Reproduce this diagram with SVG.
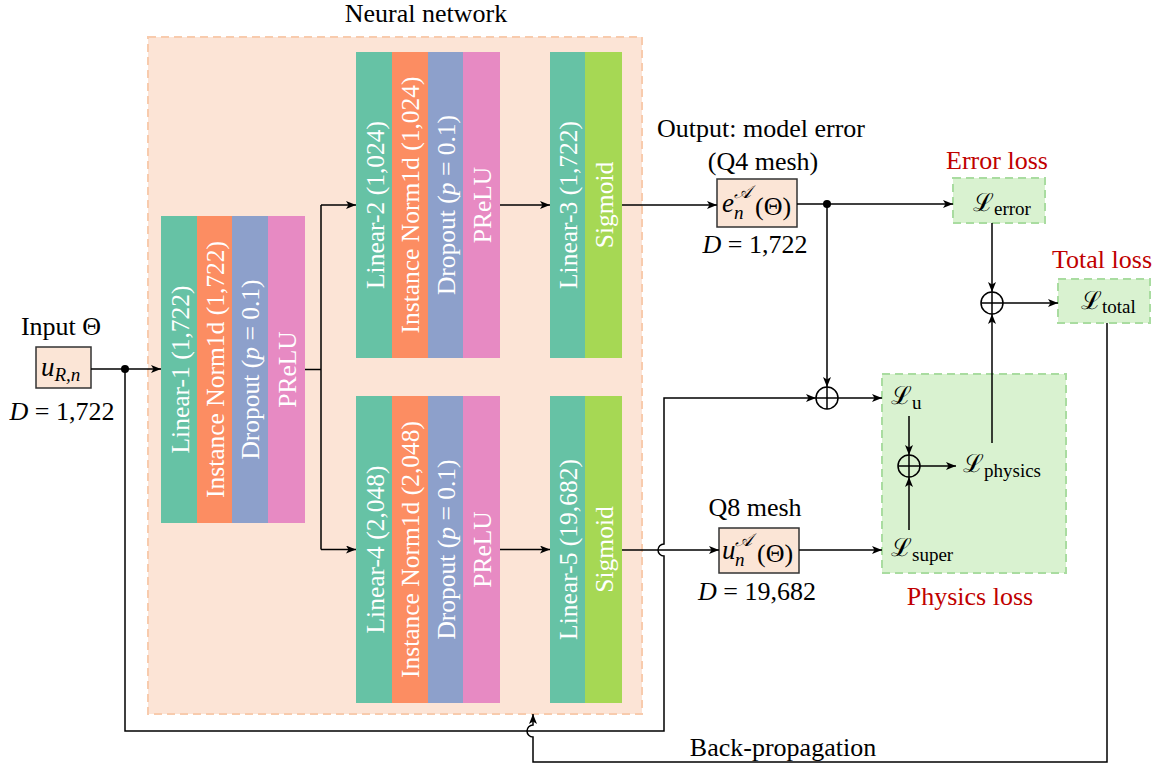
<svg xmlns="http://www.w3.org/2000/svg" width="1161" height="769" viewBox="0 0 1161 769">
<style>
text{font-family:"Liberation Serif","Times New Roman","DejaVu Serif",serif;fill:#000}
.t{font-size:26px}
.c{text-anchor:middle}
.red{fill:#c00000}
.lab{font-size:25.5px;fill:#fff;text-anchor:middle;dominant-baseline:central}
.g{fill:#66c2a5}.o{fill:#fc8d62}.b{fill:#8da0cb}.p{fill:#e78ac3}.l{fill:#a6d854}
.box{fill:#fbe5d6;stroke:#333;stroke-width:1.5}
.loss{fill:#d9f2d0;stroke:#a9dca0;stroke-width:2;stroke-dasharray:8 5}
.ln{fill:none;stroke:#000;stroke-width:1.5}
.arr{marker-end:url(#ah)}
.it{font-style:italic}
.sL{font-family:"DejaVu Serif","Liberation Serif",serif;font-size:25px}
.sub{font-size:19px}
</style>
<defs>
<marker id="ah" markerUnits="userSpaceOnUse" markerWidth="11" markerHeight="9" refX="10" refY="4" orient="auto">
<path d="M0,0 L10,4 L0,8 L2.5,4 z" fill="#000"/>
</marker>
</defs>

<g id="nn">
<rect x="148" y="37" width="494" height="677" fill="#fce4d6" stroke="#f8cbad" stroke-width="2" stroke-dasharray="8 5"/>
<text class="t c" x="426" y="22">Neural network</text>
</g>

<g id="block1">
<rect class="g" x="161" y="216" width="36" height="307"/>
<rect class="o" x="197" y="216" width="35" height="307"/>
<rect class="b" x="232" y="216" width="36" height="307"/>
<rect class="p" x="268" y="216" width="37" height="307"/>
<text class="lab" transform="translate(180,369.5) rotate(-90)">Linear-1 (1,722)</text>
<text class="lab" transform="translate(215,369.5) rotate(-90)">Instance Norm1d (1,722)</text>
<text class="lab" transform="translate(250,369.5) rotate(-90)">Dropout (<tspan class="it">p</tspan> = 0.1)</text>
<text class="lab" transform="translate(287,369.5) rotate(-90)">PReLU</text>
</g>

<g id="block2">
<rect class="g" x="356" y="52" width="36" height="306"/>
<rect class="o" x="392" y="52" width="36" height="306"/>
<rect class="b" x="428" y="52" width="35" height="306"/>
<rect class="p" x="463" y="52" width="37" height="306"/>
<text class="lab" transform="translate(375,205) rotate(-90)">Linear-2 (1,024)</text>
<text class="lab" transform="translate(410,205) rotate(-90)">Instance Norm1d (1,024)</text>
<text class="lab" transform="translate(446,205) rotate(-90)">Dropout (<tspan class="it">p</tspan> = 0.1)</text>
<text class="lab" transform="translate(482,205) rotate(-90)">PReLU</text>
</g>

<g id="block3">
<rect class="g" x="550" y="52" width="35" height="306"/>
<rect class="l" x="585" y="52" width="37" height="306"/>
<text class="lab" transform="translate(568,205) rotate(-90)">Linear-3 (1,722)</text>
<text class="lab" transform="translate(604,205) rotate(-90)">Sigmoid</text>
</g>

<g id="block4">
<rect class="g" x="356" y="396" width="36" height="307"/>
<rect class="o" x="392" y="396" width="36" height="307"/>
<rect class="b" x="428" y="396" width="35" height="307"/>
<rect class="p" x="463" y="396" width="37" height="307"/>
<text class="lab" transform="translate(375,549.5) rotate(-90)">Linear-4 (2,048)</text>
<text class="lab" transform="translate(410,549.5) rotate(-90)">Instance Norm1d (2,048)</text>
<text class="lab" transform="translate(446,549.5) rotate(-90)">Dropout (<tspan class="it">p</tspan> = 0.1)</text>
<text class="lab" transform="translate(482,549.5) rotate(-90)">PReLU</text>
</g>

<g id="block5">
<rect class="g" x="550" y="396" width="35" height="307"/>
<rect class="l" x="585" y="396" width="37" height="307"/>
<text class="lab" transform="translate(568,549.5) rotate(-90)">Linear-5 (19,682)</text>
<text class="lab" transform="translate(604,549.5) rotate(-90)">Sigmoid</text>
</g>

<g id="input">
<text class="t c" x="61" y="335">Input Θ</text>
<rect class="box" x="36" y="347" width="55" height="41"/>
<text x="41" y="376" class="it" font-size="27">u<tspan class="sub" dy="5">R,n</tspan></text>
<text class="t c" x="62" y="420"><tspan class="it">D</tspan> = 1,722</text>
</g>

<g id="output-error">
<text class="t c" x="761" y="137">Output: model error</text>
<text class="t c" x="763" y="170">(Q4 mesh)</text>
<rect class="box" x="717" y="179" width="80" height="48"/>
<text x="722" y="212" class="it" font-size="27">e</text>
<text x="734" y="219" class="it sub">n</text>
<text x="734" y="198" class="it" font-size="18" font-family="DejaVu Serif, serif">𝒜</text>
<text x="755" y="215" font-size="26">(Θ)</text>
<text class="t c" x="755" y="253"><tspan class="it">D</tspan> = 1,722</text>
</g>

<g id="output-q8">
<text class="t c" x="755" y="516">Q8 mesh</text>
<rect class="box" x="719" y="528" width="80" height="45"/>
<text x="722" y="559" class="it" font-size="27">u</text>
<text x="735" y="566" class="it sub">n</text>
<text x="735" y="546" class="it" font-size="18" font-family="DejaVu Serif, serif">𝒜</text>
<text x="757" y="562" font-size="26">(Θ)</text>
<text class="t c" x="757" y="600"><tspan class="it">D</tspan> = 19,682</text>
</g>

<g id="error-loss">
<text class="t c red" x="997" y="169">Error loss</text>
<rect class="loss" x="953" y="178" width="92" height="45"/>
<text x="973" y="211" class="sL">ℒ<tspan class="sub" font-family="Liberation Serif, serif" dy="4">error</tspan></text>
</g>

<g id="total-loss">
<text class="t c red" x="1102" y="268">Total loss</text>
<rect class="loss" x="1058" y="279" width="92" height="44"/>
<text x="1081" y="309" class="sL">ℒ<tspan class="sub" font-family="Liberation Serif, serif" dy="4">total</tspan></text>
</g>

<g id="physics-loss">
<rect class="loss" x="882" y="374" width="184" height="199"/>
<text class="t c red" x="970" y="605">Physics loss</text>
<text x="891" y="404" class="sL">ℒ<tspan class="sub" font-family="Liberation Serif, serif" dy="5">u</tspan></text>
<text x="963" y="472" class="sL">ℒ<tspan class="sub" font-family="Liberation Serif, serif" dy="5">physics</tspan></text>
<text x="891" y="556" class="sL">ℒ<tspan class="sub" font-family="Liberation Serif, serif" dy="5">super</tspan></text>
</g>

<g id="sums" fill="none" stroke="#000" stroke-width="1.5">
<circle cx="827" cy="398" r="11"/><path d="M816,398 H838 M827,387 V409"/>
<circle cx="909" cy="466" r="11"/><path d="M898,466 H920 M909,455 V477"/>
<circle cx="992" cy="303" r="11"/><path d="M981,303 H1003 M992,292 V314"/>
</g>

<g id="connectors">
<path class="ln arr" d="M91,369 H161"/>
<circle cx="125" cy="369" r="4" fill="#000"/>
<path class="ln" d="M305,369.5 H321 M321,205 V549.5"/>
<path class="ln arr" d="M321,205 H356"/>
<path class="ln arr" d="M321,549.5 H356"/>
<path class="ln arr" d="M500,205 H550"/>
<path class="ln arr" d="M500,549.5 H550"/>
<path class="ln arr" d="M622,205 H717"/>
<path class="ln arr" d="M622,550 H719"/>
<path class="ln arr" d="M797,204 H953"/>
<circle cx="827" cy="204" r="4" fill="#000"/>
<path class="ln arr" d="M827,204 V387"/>
<path class="ln arr" d="M125,369 V731 H664 V556 A6,6 0 0 1 664,544 V398 H816"/>
<path class="ln arr" d="M838,398 H882"/>
<path class="ln arr" d="M909,416 V455"/>
<path class="ln arr" d="M920,466 H956"/>
<path class="ln arr" d="M909,530 V477"/>
<path class="ln arr" d="M799,550 H882"/>
<path class="ln arr" d="M992,443 V314"/>
<path class="ln arr" d="M992,223 V292"/>
<path class="ln arr" d="M1003,303 H1058"/>
<path class="ln arr" d="M1107,323 V762 H533 V737 A6,6 0 0 1 533,725 V714"/>
<text class="t c" x="783" y="756">Back-propagation</text>
</g>
</svg>
